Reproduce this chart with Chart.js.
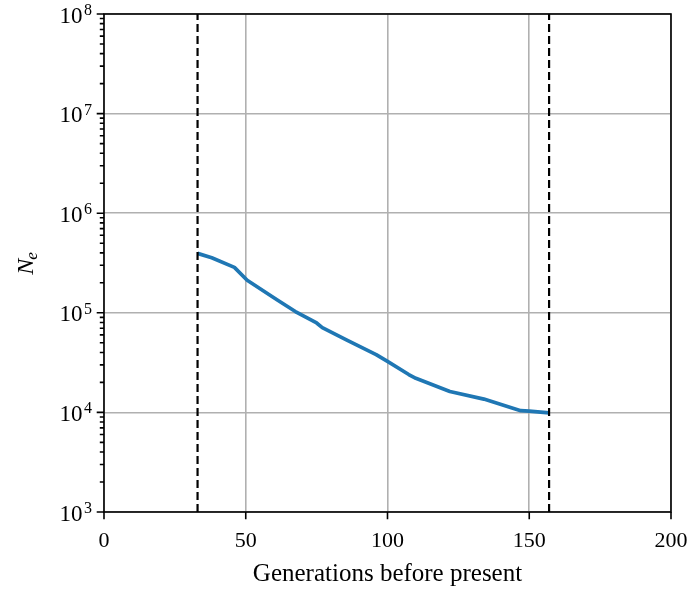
<!DOCTYPE html>
<html>
<head>
<meta charset="utf-8">
<script src="https://cdn.jsdelivr.net/npm/chart.js@4/dist/chart.umd.min.js"></script>
<style>
  html, body { margin: 0; padding: 0; background: #fff; }
  #wrap { width: 690px; height: 590px; }
</style>
</head>
<body>
<div id="wrap"><canvas id="ne-chart" width="690" height="590"></canvas></div>
<script>
// ═══ DATA ═══
const generations = [33, 38, 46, 50.5, 61, 67.5, 75, 77, 85.5, 96, 100, 107.5, 110, 122, 134, 147, 150, 157];
const neValues = [3.95e5, 3.57e5, 2.86e5, 2.12e5, 1.35e5, 1.03e5, 7.9e4, 7.1e4, 5.35e4, 3.8e4, 3.25e4, 2.4e4, 2.2e4, 1.62e4, 1.36e4, 1.04e4, 1.03e4, 9.9e3];
const boundGens = [33, 157];
const xTicks = [0, 50, 100, 150, 200];
const yDecades = [3, 4, 5, 6, 7, 8];
const xLabel = 'Generations before present';

const FONT = "'Liberation Serif', 'DejaVu Serif', serif";

Chart.defaults.font.family = FONT;
Chart.defaults.color = '#000';

// y tick positions: decades plus 2..9 minors
function logTicks() {
  const out = [];
  yDecades.forEach((d, i) => {
    out.push({ value: Math.pow(10, d), major: true, exp: d });
    if (i < yDecades.length - 1) {
      for (let m = 2; m <= 9; m++) out.push({ value: m * Math.pow(10, d), major: false });
    }
  });
  return out;
}

// ═══ FRAME, TICK MARKS, Y LABELS, Y TITLE ═══
const framePlugin = {
  id: 'frame',
  afterDraw(chart) {
    const { ctx, chartArea: a, scales: { x, y } } = chart;
    ctx.save();
    ctx.strokeStyle = '#000';
    ctx.lineWidth = 1.6;
    ctx.strokeRect(a.left, a.top, a.right - a.left, a.bottom - a.top);

    ctx.beginPath();
    xTicks.forEach(v => {
      const px = x.getPixelForValue(v);
      ctx.moveTo(px, a.bottom);
      ctx.lineTo(px, a.bottom + 7.3);
    });
    y.ticks.forEach(t => {
      const py = y.getPixelForValue(t.value);
      const len = t.major ? 7.3 : 4.2;
      ctx.moveTo(a.left - len, py);
      ctx.lineTo(a.left, py);
    });
    ctx.stroke();

    // decade labels 10^n
    ctx.fillStyle = '#000';
    ctx.textBaseline = 'alphabetic';
    ctx.textAlign = 'right';
    y.ticks.filter(t => t.major).forEach(t => {
      const py = y.getPixelForValue(t.value);
      const right = a.left - 12;
      ctx.font = '16px ' + FONT;
      const we = ctx.measureText(String(t.exp)).width;
      ctx.fillText(String(t.exp), right, py + 1);
      ctx.font = '23px ' + FONT;
      ctx.fillText('10', right - we - 1.5, py + 8.5);
    });

    // N_e axis title
    ctx.textAlign = 'left';
    ctx.translate(25, (a.top + a.bottom) / 2);
    ctx.rotate(-Math.PI / 2);
    ctx.font = 'italic 24px ' + FONT;
    const wN = ctx.measureText('N').width;
    ctx.font = 'italic 17px ' + FONT;
    const we = ctx.measureText('e').width;
    const x0 = -(wN + we) / 2;
    ctx.font = 'italic 24px ' + FONT;
    ctx.fillText('N', x0, 8);
    ctx.font = 'italic 17px ' + FONT;
    ctx.fillText('e', x0 + wN - 1, 12);
    ctx.restore();
  }
};

const datasets = boundGens.map(g => ({
  data: [{ x: g, y: 1e3 }, { x: g, y: 1e8 }],
  borderColor: '#000',
  borderWidth: 2.2,
  borderDash: [8, 4],
  pointRadius: 0,
  fill: false
}));
datasets.push({
  data: generations.map((g, i) => ({ x: g, y: neValues[i] })),
  borderColor: '#1f77b4',
  borderWidth: 3.7,
  pointRadius: 0,
  tension: 0,
  fill: false,
  borderJoinStyle: 'round',
  borderCapStyle: 'butt'
});

new Chart(document.getElementById('ne-chart'), {
  type: 'line',
  data: { datasets },
  plugins: [framePlugin],
  options: {
    responsive: false,
    animation: false,
    layout: { padding: { top: 14, right: 19, left: 0, bottom: 0 } },
    plugins: { legend: { display: false }, tooltip: { enabled: false } },
    scales: {
      x: {
        type: 'linear',
        min: 0,
        max: 200,
        afterBuildTicks: s => { s.ticks = xTicks.map(v => ({ value: v })); },
        afterFit: s => { s.height = 78; s.paddingLeft = 0; s.paddingRight = 0; },
        border: { display: false },
        grid: { color: '#b0b0b0', lineWidth: 1.6, drawTicks: false },
        ticks: { font: { size: 22 }, padding: 16, maxRotation: 0 },
        title: { display: true, text: xLabel, font: { size: 25 }, padding: { top: 0, bottom: 1 } }
      },
      y: {
        type: 'logarithmic',
        min: 1e3,
        max: 1e8,
        afterBuildTicks: s => { s.ticks = logTicks(); },
        afterFit: s => { s.width = 104; s.paddingTop = 0; s.paddingBottom = 0; },
        border: { display: false },
        grid: {
          drawTicks: false,
          lineWidth: 1.6,
          color: c => (c.tick && c.tick.major ? '#b0b0b0' : 'rgba(0,0,0,0)')
        },
        ticks: { display: false }
      }
    }
  }
});
</script>
</body>
</html>
